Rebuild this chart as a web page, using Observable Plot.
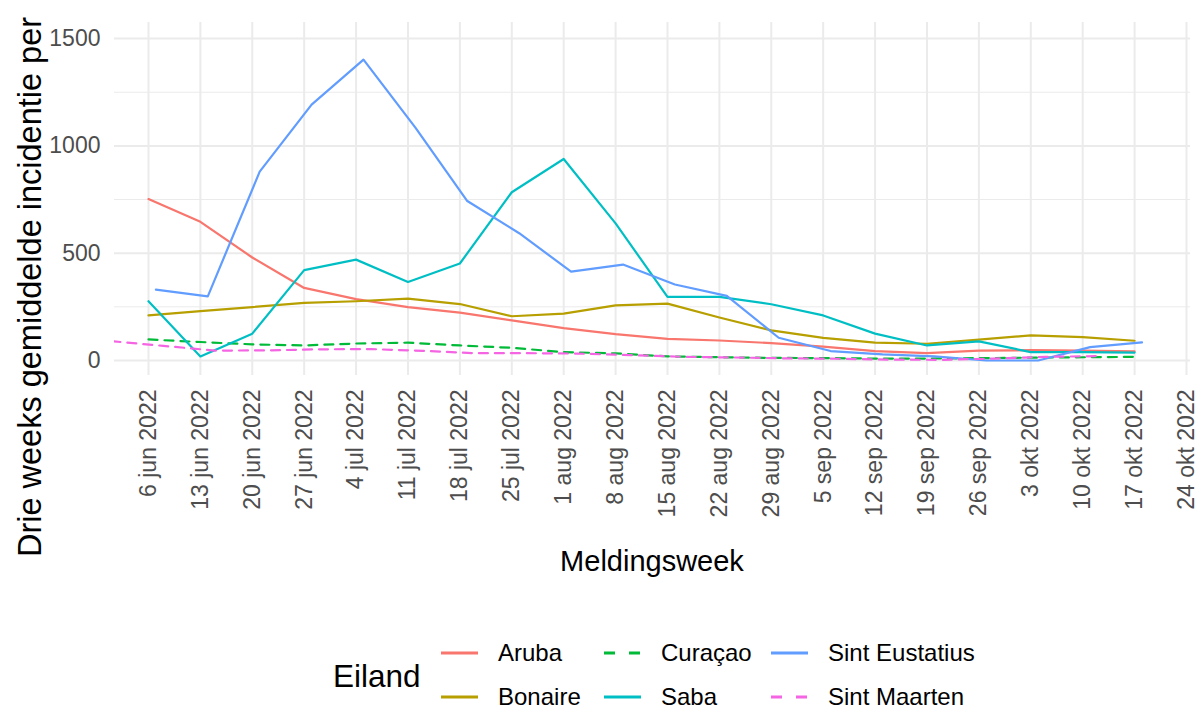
<!DOCTYPE html>
<html>
<head>
<meta charset="utf-8">
<script src="https://cdn.jsdelivr.net/npm/d3@7"></script>
<script src="https://cdn.jsdelivr.net/npm/@observablehq/plot@0.6"></script>
<style>
  body { margin: 0; background: #fff; }
  #wrap { position: relative; width: 1198px; height: 709px; overflow: hidden;
          font-family: "Liberation Sans", Arial, Helvetica, sans-serif; background: #fff; }
  #wrap svg.plot { position: absolute; left: 0; top: 0; }
  .ytitle { position: absolute; white-space: nowrap; font-size: 32.5px; color: #000;
            transform: translate(-50%, -50%) rotate(-90deg); line-height: 1; }
  .xtitle { position: absolute; white-space: nowrap; font-size: 29px; color: #000;
            transform: translate(-50%, -50%); line-height: 1; }
  .legtitle { position: absolute; font-size: 31.5px; color: #000; transform: translateY(-50%); line-height: 1; }
  .legtext { position: absolute; font-size: 24px; color: #000; transform: translateY(-50%); line-height: 1; white-space: nowrap; }
  .legkey { position: absolute; transform: translateY(-50%); }
</style>
</head>
<body>
<div id="wrap"></div>
<script>
// ---- data ----
const islands = ["Aruba", "Bonaire", "Curaçao", "Saba", "Sint Eustatius", "Sint Maarten"];
const colors  = ["#F8766D", "#B79F00", "#00BA38", "#00BFC4", "#619CFF", "#F564E3"];
const dashed  = [false, false, true, false, false, true];

const datesMonday = ["2022-06-06","2022-06-13","2022-06-20","2022-06-27","2022-07-04","2022-07-11","2022-07-18",
  "2022-07-25","2022-08-01","2022-08-08","2022-08-15","2022-08-22","2022-08-29","2022-09-05","2022-09-12",
  "2022-09-19","2022-09-26","2022-10-03","2022-10-10","2022-10-17"];
const datesTuesday = ["2022-06-07","2022-06-14","2022-06-21","2022-06-28","2022-07-05","2022-07-12","2022-07-19",
  "2022-07-26","2022-08-02","2022-08-09","2022-08-16","2022-08-23","2022-08-30","2022-09-06","2022-09-13",
  "2022-09-20","2022-09-27","2022-10-04","2022-10-11","2022-10-18"];
const datesWednesday = ["2022-06-01","2022-06-08","2022-06-15","2022-06-22","2022-06-29","2022-07-06","2022-07-13",
  "2022-07-20","2022-07-27","2022-08-03","2022-08-10","2022-08-17","2022-08-24","2022-08-31","2022-09-07",
  "2022-09-14","2022-09-21","2022-09-28","2022-10-05","2022-10-12"];

const aruba         = [752, 646, 480, 338, 286, 249, 223, 187, 151, 123, 101, 93, 81, 65, 44, 34, 46, 48, 46, 42];
const bonaire       = [210, 230, 249, 268, 276, 288, 263, 206, 218, 257, 265, 200, 140, 105, 83, 78, 97, 117, 109, 92];
const curacao       = [98, 86, 75, 70, 79, 83, 70, 59, 39, 33, 19, 15, 12, 11, 9, 9, 11, 13, 15, 17];
const saba          = [276, 19, 125, 421, 470, 366, 452, 784, 939, 639, 296, 296, 262, 210, 125, 70, 89, 39, 39, 37];
const sintEustatius = [330, 299, 880, 1192, 1402, 1085, 743, 593, 414, 447, 354, 301, 106, 44, 28, 19, 0, 0, 62, 84];
const sintMaarten   = [90, 68, 46, 47, 52, 53, 45, 34, 34, 32, 25, 17, 14, 10, 8, 4, 3, 9, 17, 20];

const seriesValues = [aruba, bonaire, curacao, saba, sintEustatius, sintMaarten];
const seriesDates  = [datesMonday, datesMonday, datesMonday, datesMonday, datesTuesday, datesWednesday];

const tickDates = ["2022-06-06","2022-06-13","2022-06-20","2022-06-27","2022-07-04","2022-07-11","2022-07-18",
  "2022-07-25","2022-08-01","2022-08-08","2022-08-15","2022-08-22","2022-08-29","2022-09-05","2022-09-12",
  "2022-09-19","2022-09-26","2022-10-03","2022-10-10","2022-10-17","2022-10-24"];
const tickLabels = ["6 jun 2022","13 jun 2022","20 jun 2022","27 jun 2022","4 jul 2022","11 jul 2022","18 jul 2022",
  "25 jul 2022","1 aug 2022","8 aug 2022","15 aug 2022","22 aug 2022","29 aug 2022","5 sep 2022","12 sep 2022",
  "19 sep 2022","26 sep 2022","3 okt 2022","10 okt 2022","17 okt 2022","24 okt 2022"];
const yMajor = [0, 500, 1000, 1500];
const yTickLabels = ["0", "500", "1000", "1500"];
const yMinor = [250, 750, 1250];

const xTitle = "Meldingsweek";
const yTitle = "Drie weeks gemiddelde incidentie per";
const legendTitle = "Eiland";

// ---- build table ----
const parse = s => new Date(s + "T00:00:00Z");
const rows = [];
islands.forEach((isl, i) => {
  seriesDates[i].forEach((d, j) => rows.push({eiland: isl, date: parse(d), value: seriesValues[i][j]}));
});
const ticks = tickDates.map(parse);

const W = 1198, H = 520;
const mL = 114, mR = 8, mT = 22, panelBottom = 375;

const lineMarks = islands.map((isl, i) =>
  Plot.line(rows.filter(r => r.eiland === isl), {
    x: "date", y: "value", stroke: "eiland",
    strokeWidth: 2.2, strokeDasharray: dashed[i] ? "9,7" : null, clip: true
  })
);

const chart = Plot.plot({
  width: W, height: H,
  marginLeft: mL, marginRight: mR, marginTop: mT, marginBottom: H - panelBottom,
  style: {fontFamily: '"Liberation Sans", Arial, sans-serif', fontSize: "23px", color: "#4d4d4d", background: "transparent"},
  x: {type: "utc", domain: [new Date(Date.UTC(2022, 5, 1, 10)), new Date(Date.UTC(2022, 9, 24, 13))]},
  y: {domain: [-70, 1575]},
  color: {domain: islands, range: colors},
  marks: [
    Plot.ruleY(yMinor, {stroke: "#ebebeb", strokeWidth: 1}),
    Plot.ruleY(yMajor, {stroke: "#ebebeb", strokeWidth: 2}),
    Plot.ruleX(ticks, {stroke: "#ebebeb", strokeWidth: 2}),
    ...lineMarks,
    Plot.axisY({ticks: yMajor, tickFormat: d => yTickLabels[yMajor.indexOf(d)], tickSize: 0, tickPadding: 14, label: null, fontSize: 23}),
    Plot.axisX({ticks: ticks, tickFormat: (d) => tickLabels[ticks.findIndex(t => +t === +d)],
                tickRotate: -90, tickSize: 0, tickPadding: 14, label: null, fontSize: 23})
  ]
});
chart.classList.add("plot");
const wrap = document.getElementById("wrap");
wrap.appendChild(chart);

// titles
const yt = document.createElement("div");
yt.className = "ytitle"; yt.textContent = yTitle;
wrap.appendChild(yt);
const ytLen = yt.getBoundingClientRect().height || 540;
yt.style.left = "30px"; yt.style.top = (557 - ytLen / 2) + "px";

const xt = document.createElement("div");
xt.className = "xtitle"; xt.textContent = xTitle;
xt.style.left = ((mL + (W - mR)) / 2) + "px"; xt.style.top = "561px";
wrap.appendChild(xt);

// legend
const lt = document.createElement("div");
lt.className = "legtitle"; lt.textContent = legendTitle;
lt.style.left = "333px"; lt.style.top = "677px";
wrap.appendChild(lt);

const colX = [441, 604, 771];
const rowY = [653, 697];
islands.forEach((isl, i) => {
  const c = Math.floor(i / 2), r = i % 2;
  const key = document.createElementNS("http://www.w3.org/2000/svg", "svg");
  key.setAttribute("class", "legkey");
  key.setAttribute("width", 37); key.setAttribute("height", 6);
  key.style.left = colX[c] + "px"; key.style.top = rowY[r] + "px";
  const ln = document.createElementNS("http://www.w3.org/2000/svg", "line");
  ln.setAttribute("x1", 0); ln.setAttribute("x2", 37); ln.setAttribute("y1", 3); ln.setAttribute("y2", 3);
  ln.setAttribute("stroke", colors[i]); ln.setAttribute("stroke-width", 3);
  if (dashed[i]) ln.setAttribute("stroke-dasharray", "11,14");
  key.appendChild(ln);
  wrap.appendChild(key);
  const tx = document.createElement("div");
  tx.className = "legtext"; tx.textContent = isl;
  tx.style.left = (colX[c] + 57) + "px"; tx.style.top = rowY[r] + "px";
  wrap.appendChild(tx);
});
</script>
</body>
</html>
